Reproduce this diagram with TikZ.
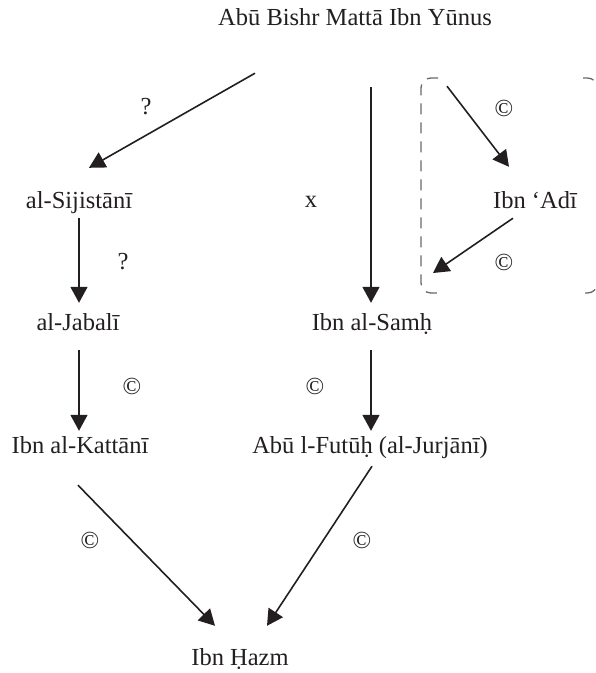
\documentclass[tikz,border=0pt]{standalone}
\usepackage{fontspec}
\setmainfont{Liberation Serif}
\usetikzlibrary{arrows.meta,calc}
\definecolor{ink}{RGB}{35,31,32}
\definecolor{dashgray}{RGB}{105,105,105}
\begin{document}
\begin{tikzpicture}[x=1pt,y=-1pt,
  person/.style={anchor=base,inner sep=0pt,text height=17pt,text depth=6pt,text=ink,font=\fontsize{24.5}{29}\selectfont},
  lbl/.style={inner sep=0pt,text=ink,font=\fontsize{24.5}{29}\selectfont},
  arr/.style={draw=ink,line width=1.6pt,-{Triangle[length=16pt,width=17pt]}},
  brk/.style={draw=dashgray,line width=1.3pt,dash pattern=on 11pt off 8pt,rounded corners=10pt}]
\useasboundingbox (0,0) rectangle (596,673);

% people
\node[person] (title) at (355,25) {Abū Bishr Mattā Ibn Yūnus};
\node[person] (sij) at (79,208) {al-Sijistānī};
\node[person] (adi) at (535,208) {Ibn ‘Adī};
\node[person] (jab) at (78,330) {al-Jabalī};
\node[person] (samh) at (372,330) {Ibn al-Samḥ};
\node[person] (kat) at (80,453) {Ibn al-Kattānī};
\node[person] (fut) at (370,453) {Abū l-Futūḥ (al-Jurjānī)};
\node[person] (hazm) at (240,665) {Ibn Ḥazm};

% group bracket
\begin{scope}
\clip (0,0) rectangle (596,673);
\draw[brk] (438,78) -- (421,78) -- (421,293) -- (438,293);
\draw[brk] (583,78) -- (597.5,78) -- (597.5,100);
\draw[brk] (597.5,271) -- (597.5,293) -- (583,293);
\end{scope}
\coordinate (grp) at (433,273);

% labels
\node[lbl] (q1) at (146,107) {?};
\node[lbl] (xl) at (311,202) {x};
\node[lbl] (c1) at (504,108) {©};
\node[lbl] (c2) at (504,262) {©};
\node[lbl] (q2) at (123,262) {?};
\node[lbl] (c3) at (132,386) {©};
\node[lbl] (c4) at (315,386) {©};
\node[lbl] (c5) at (90,540) {©};
\node[lbl] (c6) at (362,540) {©};

% connectors
\draw[arr] ($(title.south)+(-100,42)$) -- ($(sij.north)+(10,-23)$);
\draw[arr] ($(title.south)+(16,56)$) -- ($(samh.north)+(-1,-10)$);
\draw[arr] ($(title.south)+(92,55)$) -- ($(adi.north)+(-26,-24)$);
\draw[arr] ($(adi.south)+(-22,4)$) -- (grp);
\draw[arr] ($(sij.south)+(0,4)$) -- ($(jab.north)+(1,-10)$);
\draw[arr] ($(jab.south)+(1,14)$) -- ($(kat.north)+(-1,-5)$);
\draw[arr] ($(samh.south)+(-1,14)$) -- ($(fut.north)+(1,-5)$);
\draw[arr] ($(kat.south)+(-2,26)$) -- ($(hazm.north)+(-25,-22)$);
\draw[arr] ($(fut.south)+(2,7)$) -- ($(hazm.north)+(27,-22)$);
\end{tikzpicture}
\end{document}
